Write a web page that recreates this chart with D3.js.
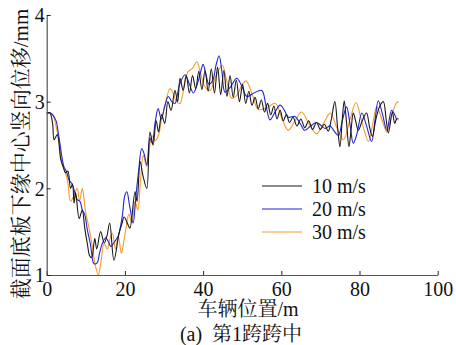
<!DOCTYPE html>
<html>
<head>
<meta charset="utf-8">
<script src="https://cdn.jsdelivr.net/npm/d3@7"></script>
<style>
  body { margin: 0; background: #fff; }
  text { font-family: "Liberation Serif", "Noto Serif CJK SC", serif; }
</style>
</head>
<body>
<div id="chart"></div>
<script>
"use strict";

// data (vehicle position in m, displacement in mm)
var pos10 = [0, 0.8, 1.5, 1.9, 2.7, 3.6, 4.2, 4.8, 5.4, 6.1, 6.6, 7.0, 7.4, 8.3, 9.1, 9.7, 10.4, 11.0, 11.5, 12.3,
  12.8, 13.8, 14.7, 15.4, 16.1, 17.2, 18.5, 19.3, 19.8, 21.0, 21.3, 22.6, 23.1, 23.9, 24.6, 25.6, 26.4, 27.2, 28.0, 28.6,
  29.4, 30.2, 31.0, 31.8, 32.8, 33.5, 34.1, 34.9, 35.7, 36.5, 37.3, 38.1, 38.9, 39.7, 40.5, 41.3, 42.1, 42.9, 43.7, 44.5,
  45.3, 46.1, 46.9, 47.7, 48.5, 49.3, 50.1, 50.9, 51.7, 52.5, 53.3, 54.1, 54.9, 55.7, 56.5, 57.3, 58.1, 58.9, 59.7, 60.5,
  61.3, 62.1, 63.0, 64.0, 65.0, 66.0, 67.0, 68.0, 69.0, 70.0, 71.0, 72.0, 72.8, 73.7, 74.4, 75.0, 75.6, 76.1, 76.7, 77.3,
  77.9, 78.4, 79.0, 79.7, 80.7, 81.8, 82.6, 83.3, 84.2, 85.2, 86.1, 86.8, 87.4, 88.4, 89.0, 89.5, 90.0];
var disp10 = [2.87, 2.87, 2.75, 2.56, 2.62, 2.33, 2.25, 2.18, 2.2, 2.0, 2.05, 1.83, 1.95, 1.65, 1.75, 1.55, 1.36, 1.22, 1.2, 1.42,
  1.3, 1.5, 1.37, 1.45, 1.6, 1.17, 1.48, 1.6, 1.67, 1.56, 1.54, 1.96, 1.85, 2.31, 2.15, 2.0, 2.65, 2.5, 2.78, 2.65,
  2.85, 2.75, 3.0, 2.9, 3.13, 3.0, 3.27, 3.13, 3.3, 3.1, 3.3, 3.15, 3.35, 3.14, 3.36, 3.12, 3.38, 3.1, 3.4, 3.08,
  3.36, 3.06, 3.3, 3.05, 3.25, 3.0, 3.2, 2.98, 3.12, 2.96, 3.05, 2.92, 3.02, 2.88, 2.98, 2.85, 2.95, 2.8, 2.9, 2.78,
  2.85, 2.76, 2.82, 2.72, 2.8, 2.7, 2.78, 2.68, 2.76, 2.68, 2.74, 2.66, 2.8, 3.0, 2.7, 2.48, 2.8, 3.01, 2.75, 2.48,
  2.7, 2.87, 2.78, 2.67, 2.78, 2.87, 2.7, 2.6, 2.8, 2.95, 3.0, 2.8, 2.64, 2.88, 2.75, 2.8, 2.8];

var pos20 = [0, 1.0, 2.3, 3.1, 4.4, 5.0, 5.7, 6.5, 7.2, 7.8, 8.5, 9.1, 9.7, 10.4, 11.2, 12.1, 12.9, 13.5, 14.2, 15.1,
  15.8, 16.4, 17.6, 18.3, 19.3, 20.0, 20.5, 21.2, 22.1, 22.8, 23.5, 24.3, 24.9, 25.6, 26.4, 27.0, 27.7, 28.5, 29.3, 30.2,
  31.1, 32.0, 32.8, 34.0, 35.4, 36.5, 37.5, 38.5, 39.3, 40.0, 40.8, 41.5, 42.5, 43.3, 44.1, 44.8, 45.6, 47.0, 48.6, 49.9,
  51.2, 53.0, 55.0, 56.1, 57.1, 58.4, 59.7, 60.8, 61.8, 63.5, 64.8, 66.0, 67.5, 69.0, 70.0, 71.2, 72.5, 73.5, 74.6, 75.6,
  76.7, 77.6, 78.4, 79.3, 80.6, 81.8, 83.1, 84.0, 84.8, 85.9, 87.0, 88.2, 89.0, 89.5];
var disp20 = [2.87, 2.87, 2.79, 2.6, 2.25, 2.2, 2.1, 2.05, 1.95, 1.87, 1.85, 1.75, 1.7, 1.52, 1.35, 1.13, 1.14, 1.25, 1.36, 1.43,
  1.38, 1.33, 1.4, 1.45, 1.67, 1.92, 1.96, 1.8, 1.6, 1.9, 2.2, 2.46, 2.4, 2.27, 2.58, 2.52, 2.75, 2.92, 2.8, 2.95,
  3.06, 3.0, 2.98, 3.2, 3.31, 3.2, 3.1, 3.2, 3.33, 3.43, 3.3, 3.2, 3.25, 3.42, 3.53, 3.35, 3.11, 3.17, 3.27, 3.18,
  3.06, 3.1, 3.13, 2.95, 2.79, 2.88, 2.96, 2.9, 2.82, 2.83, 2.75, 2.67, 2.72, 2.76, 2.73, 2.69, 2.72, 2.66, 2.61, 2.78,
  2.94, 2.73, 2.52, 2.62, 2.87, 2.72, 2.54, 2.8, 3.01, 2.85, 2.67, 2.9, 2.85, 2.79];

var pos30 = [0, 1.4, 2.7, 3.9, 4.6, 5.3, 6.1, 6.8, 7.8, 8.4, 9.1, 9.6, 10.0, 10.8, 11.6, 12.4, 13.2, 13.8, 14.7, 15.5,
  16.2, 16.8, 17.6, 18.3, 19.1, 19.6, 20.2, 21.0, 21.8, 22.6, 23.3, 24.0, 24.7, 25.6, 26.9, 27.7, 28.5, 29.4, 30.3, 31.5,
  32.3, 33.2, 34.1, 35.4, 36.2, 37.2, 38.4, 39.5, 40.5, 41.8, 43.3, 44.9, 46.0, 47.3, 48.6, 50.0, 51.0, 52.6, 54.1, 56.3,
  58.5, 60.2, 61.8, 63.5, 65.2, 67.0, 69.0, 70.8, 72.5, 74.2, 75.9, 77.6, 79.1, 80.7, 82.3, 83.4, 84.4, 85.7, 87.0, 88.3,
  89.5, 90.0];
var disp30 = [2.87, 2.85, 2.65, 2.3, 2.2, 2.1, 1.85, 1.9, 2.0, 1.85, 2.0, 1.85, 1.71, 1.55, 1.35, 1.12, 1.0, 1.13, 1.36, 1.3,
  1.42, 1.48, 1.3, 1.45, 1.25, 1.35, 1.52, 1.7, 1.6, 1.85, 1.75, 2.1, 2.38, 2.25, 2.61, 2.55, 2.6, 2.8, 2.96, 3.15,
  3.1, 3.0, 2.98, 3.25, 3.35, 3.38, 3.46, 3.3, 3.17, 3.13, 3.3, 3.42, 3.25, 3.04, 3.07, 3.2, 3.24, 3.08, 2.91, 2.93,
  2.98, 2.8, 2.67, 2.78, 2.88, 2.75, 2.63, 2.75, 2.87, 2.7, 2.56, 2.8, 2.99, 2.75, 2.54, 2.75, 2.94, 2.8, 2.65, 2.85,
  2.99, 3.0];

var legendLabels = ["10 m/s", "20 m/s", "30 m/s"];
var lineColors = ["#1a1a1a", "#2323d8", "#f49a2c"];
var xTicks = [0, 20, 40, 60, 80, 100];
var yTicks = [1, 2, 3, 4];

var fontStack = "'Liberation Serif', 'Noto Serif CJK SC', serif";

var series = [
  { xs: pos10, ys: disp10 },
  { xs: pos20, ys: disp20 },
  { xs: pos30, ys: disp30 }
];

//Make an SVG Container
var svg = d3.select("#chart").append("svg")
  .attr("width", 456)
  .attr("height", 345)
  .attr("font-family", fontStack);

var x = d3.scaleLinear().domain([0, 100]).range([46.7, 437.7]);
var y = d3.scaleLinear().domain([1, 4]).range([275, 15]);

//Draw the curves
var line = d3.line()
  .x(function(d) { return x(d[0]); })
  .y(function(d) { return y(d[1]); })
  .curve(d3.curveCatmullRom.alpha(0.5));

// draw 30, 20, 10 so that black sits on top
for (var i = series.length - 1; i >= 0; i--) {
  var pts = series[i].xs.map(function(v, k) { return [v, series[i].ys[k]]; });
  svg.append("path")
    .datum(pts)
    .attr("d", line)
    .attr("fill", "none")
    .attr("stroke", lineColors[i])
    .attr("stroke-width", 1.1);
}

//Axes
var xAxis = svg.append("g")
  .attr("transform", "translate(0,275)")
  .call(d3.axisBottom(x).tickValues(xTicks).tickFormat(d3.format("d"))
    .tickSizeInner(-4).tickSizeOuter(0).tickPadding(7));
var yAxis = svg.append("g")
  .attr("transform", "translate(46.7,0)")
  .call(d3.axisLeft(y).tickValues(yTicks).tickFormat(d3.format("d"))
    .tickSizeInner(-4).tickSizeOuter(0).tickPadding(2));

[xAxis, yAxis].forEach(function(ax) {
  ax.attr("font-family", fontStack).attr("font-size", 20);
  ax.select(".domain").attr("stroke", "#555").attr("stroke-width", 1.2);
  ax.selectAll(".tick line").attr("stroke", "#222");
  ax.selectAll(".tick text").attr("fill", "#111");
});
yAxis.selectAll(".tick text").attr("dy", "0.34em");

//Axis titles
svg.append("text")
  .attr("x", 248)
  .attr("y", 316)
  .attr("text-anchor", "middle")
  .attr("font-size", "20px")
  .attr("fill", "#111")
  .text("车辆位置/m");

svg.append("text")
  .attr("transform", "translate(28,154) rotate(-90)")
  .attr("text-anchor", "middle")
  .attr("font-size", "21px")
  .attr("fill", "#111")
  .text("截面底板下缘中心竖向位移/mm");

svg.append("text")
  .attr("x", 241)
  .attr("y", 341)
  .attr("text-anchor", "middle")
  .attr("font-size", "20px")
  .attr("fill", "#111")
  .style("white-space", "pre")
  .text("(a)  第1跨跨中");

//Legend
var legend = svg.append("g");
legendLabels.forEach(function(lab, k) {
  var ly = 186 + k * 23;
  legend.append("line")
    .attr("x1", 262).attr("x2", 302)
    .attr("y1", ly).attr("y2", ly)
    .attr("stroke", lineColors[k])
    .attr("stroke-width", 1.1);
  legend.append("text")
    .attr("x", 312)
    .attr("y", ly + 6.5)
    .attr("font-size", "20px")
    .attr("fill", "#111")
    .text(lab);
});
</script>
</body>
</html>
